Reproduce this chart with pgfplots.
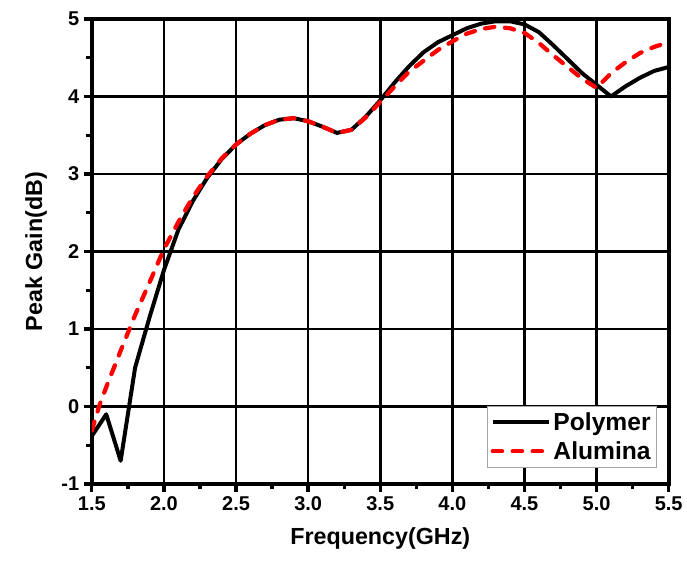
\documentclass[border=0pt]{standalone}
\usepackage{pgfplots}
\pgfplotsset{compat=1.18}
\usepackage{fontspec}
\setmainfont{Liberation Sans}
\begin{document}
\begin{tikzpicture}
\begin{axis}[
  name=ax,
  scale only axis,
  width=433.5pt, height=349.5pt,
  xmin=1.5, xmax=5.5, ymin=-1, ymax=5,
  xtick={1.5,2.0,2.5,3.0,3.5,4.0,4.5,5.0,5.5},
  xticklabels={1.5,2.0,2.5,3.0,3.5,4.0,4.5,5.0,5.5},
  ytick={-1,0,1,2,3,4,5},
  yticklabels={-1,0,1,2,3,4,5},
  minor xtick={1.75,2.25,2.75,3.25,3.75,4.25,4.75,5.25},
  minor ytick={-0.5,0.5,1.5,2.5,3.5,4.5},
  tick pos=left,
  tick align=outside,
  major tick length=6pt,
  minor tick length=4pt,
  every tick/.style={black, line width=2.5pt},
  xmajorgrids=true, ymajorgrids=true,
  xminorgrids=false, yminorgrids=false,
  major grid style={black, line width=2pt},
  axis line style={line width=3pt},
  tick label style={font=\bfseries\fontsize{15}{17}\selectfont},
  label style={font=\bfseries\fontsize{17.5}{20}\selectfont},
  xlabel={Frequency(GHz)},
  ylabel={Peak Gain(dB)},
  xlabel style={yshift=-6pt},
  ylabel style={yshift=4pt},
  legend style={font=\bfseries\fontsize{18.5}{21}\selectfont, draw=gray!70, line width=0.8pt,
    at={(0.98,0.035)}, anchor=south east, inner sep=2.5pt, row sep=3pt},
  legend cell align=left,
  legend image code/.code={\draw[#1] (0pt,0pt) -- (42pt,0pt);},
]
\addplot[black, line width=3pt, line join=round] coordinates {
(1.5,-0.38) (1.6,-0.1) (1.7,-0.7) (1.8,0.5) (1.9,1.15) (2.0,1.76) (2.1,2.28)
(2.2,2.65) (2.3,2.95) (2.4,3.19) (2.5,3.38) (2.6,3.52) (2.7,3.63) (2.8,3.7)
(2.9,3.72) (3.0,3.68) (3.1,3.61) (3.2,3.53) (3.3,3.57) (3.4,3.74) (3.5,3.95)
(3.6,4.18) (3.7,4.39) (3.8,4.57) (3.9,4.7) (4.0,4.79) (4.1,4.88) (4.2,4.94)
(4.3,4.97) (4.4,4.97) (4.5,4.93) (4.6,4.83) (4.7,4.66) (4.8,4.48) (4.9,4.3)
(5.0,4.15) (5.1,4.0) (5.2,4.13) (5.3,4.24) (5.4,4.33) (5.5,4.38)
};
\addlegendentry{Polymer}
\addplot[red, line width=3.2pt, line cap=round, dash pattern=on 7pt off 8pt] coordinates {
(1.5,-0.31) (1.55,0.0) (1.6,0.25) (1.7,0.72) (1.8,1.18) (1.9,1.6) (2.0,2.03)
(2.1,2.38) (2.2,2.7) (2.3,2.97) (2.4,3.2) (2.5,3.38) (2.6,3.52) (2.7,3.63)
(2.8,3.7) (2.9,3.72) (3.0,3.68) (3.1,3.61) (3.2,3.53) (3.3,3.57) (3.4,3.73)
(3.5,3.93) (3.6,4.13) (3.7,4.32) (3.8,4.46) (3.9,4.6) (4.0,4.71) (4.1,4.81)
(4.2,4.87) (4.3,4.9) (4.4,4.88) (4.5,4.82) (4.6,4.69) (4.7,4.53) (4.8,4.38)
(4.9,4.23) (5.0,4.11) (5.1,4.3) (5.2,4.44) (5.3,4.56) (5.4,4.64) (5.5,4.7)
};
\addlegendentry{Alumina}
\end{axis}
\path (ax.south west) ++(-69pt,-57.75pt) coordinate (bl);
\path (ax.north east) ++(12.75pt,14.25pt) coordinate (tr);
\useasboundingbox (bl) rectangle (tr);
\end{tikzpicture}
\end{document}
